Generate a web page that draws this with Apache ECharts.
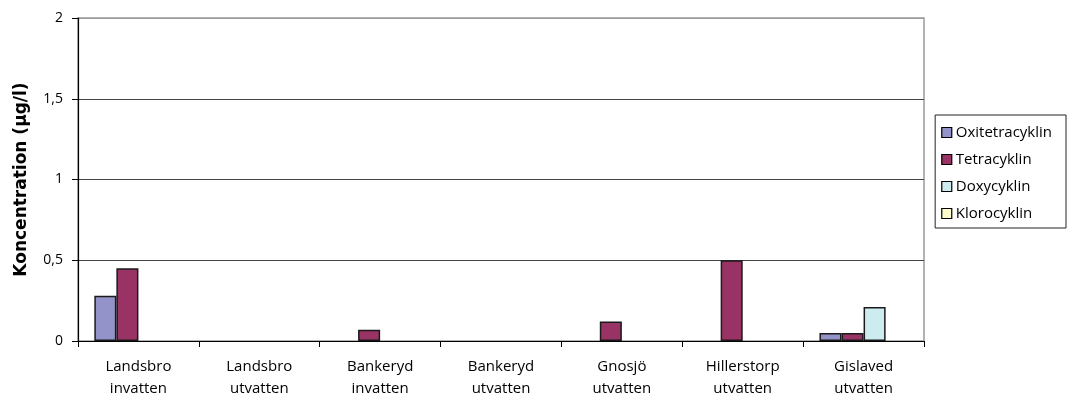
<!DOCTYPE html>
<html>
<head>
<meta charset="utf-8">
<script src="https://cdn.jsdelivr.net/npm/echarts@6/dist/echarts.min.js"></script>
<style>
  html, body { margin: 0; padding: 0; background: #fff; }
  #chart { width: 1068px; height: 398px; }
</style>
</head>
<body>
<div id="chart"></div>
<script>
// Sampling sites (two-line labels)
const categories = [
  'Landsbro\ninvatten', 'Landsbro\nutvatten', 'Bankeryd\ninvatten', 'Bankeryd\nutvatten',
  'Gnosjö\nutvatten', 'Hillerstorp\nutvatten', 'Gislaved\nutvatten'
];

// Concentrations, µg/l
const oxitetracyklin = [0.28, 0, 0, 0, 0, 0, 0.05];
const tetracyklin    = [0.45, 0, 0.07, 0, 0.12, 0.5, 0.05];
const doxycyklin     = [0, 0, 0, 0, 0, 0, 0.21];
const klorocyklin    = [0, 0, 0, 0, 0, 0, 0];

const yTickLabels = ['0', '0,5', '1', '1,5', '2'];

const seriesDefs = [
  { name: 'Oxitetracyklin', data: oxitetracyklin, color: '#9393c9' },
  { name: 'Tetracyklin',    data: tetracyklin,    color: '#993366' },
  { name: 'Doxycyklin',     data: doxycyklin,     color: '#cdecf0' },
  { name: 'Klorocyklin',    data: klorocyklin,    color: '#ffffcc' }
];

const font = '"Open Sans", "DejaVu Sans", sans-serif';
const chart = echarts.init(document.getElementById('chart'));

// zero-height bars get no outline so nothing is stroked along the axis
const toBarData = values => values.map(v =>
  v === 0 ? { value: v, itemStyle: { borderWidth: 0 } } : v
);

chart.setOption({
  backgroundColor: '#ffffff',
  animation: false,
  grid: {
    left: 78, right: 144, top: 18, bottom: 57,
    outerBoundsMode: 'none',
    containLabel: false,
    show: true, borderColor: '#9a9a9a', borderWidth: 1.5
  },
  legend: {
    orient: 'vertical',
    right: 2, top: 115,
    width: 120,
    padding: [10, 14, 7, 6],
    itemWidth: 10, itemHeight: 10,
    itemGap: 12,
    icon: 'rect',
    borderColor: '#222', borderWidth: 1,
    backgroundColor: '#fff',
    textStyle: { fontFamily: font, fontSize: 15, color: '#000', padding: [0, 0, 0, -1] },
    itemStyle: { borderColor: '#000', borderWidth: 1.2 },
    data: seriesDefs.map(s => s.name)
  },
  xAxis: {
    type: 'category',
    data: categories,
    axisLine: { lineStyle: { color: '#000', width: 1.2 } },
    axisTick: { show: true, length: 6, lineStyle: { color: '#000' } },
    axisLabel: {
      fontFamily: font, fontSize: 15, color: '#000',
      lineHeight: 22, margin: 15, interval: 0
    },
    splitLine: { show: false }
  },
  yAxis: {
    type: 'value',
    min: 0, max: 2, interval: 0.5,
    name: 'Koncentration (µg/l)',
    nameLocation: 'middle',
    nameGap: 48,
    nameTextStyle: { fontFamily: '"DejaVu Sans", sans-serif', fontWeight: 'bold', fontSize: 17, color: '#000' },
    axisLine: { show: true, lineStyle: { color: '#000', width: 1.2 } },
    axisTick: { show: true, length: 6, lineStyle: { color: '#000' } },
    axisLabel: {
      fontFamily: font, fontSize: 14, color: '#000', margin: 15,
      formatter: (v, i) => yTickLabels[i]
    },
    splitLine: {
      show: true,
      lineStyle: { color: ['#000', '#444', '#444', '#444', '#9a9a9a'], width: 1 }
    }
  },
  series: seriesDefs.map(s => ({
    name: s.name,
    type: 'bar',
    data: toBarData(s.data),
    barGap: '0%',
    barCategoryGap: '27%',
    itemStyle: { color: s.color, borderColor: '#1a1a1a', borderWidth: 1.5 }
  }))
});
</script>
</body>
</html>
